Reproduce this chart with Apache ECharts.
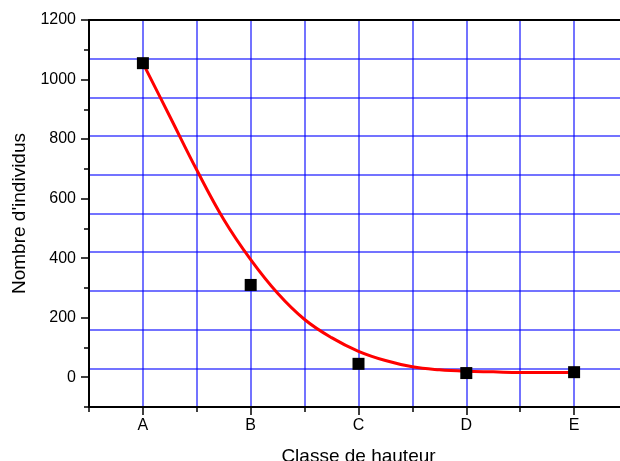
<!DOCTYPE html>
<html>
<head>
<meta charset="utf-8">
<script src="https://cdn.jsdelivr.net/npm/echarts@6/dist/echarts.min.js"></script>
<style>
html,body{margin:0;padding:0;background:#fff;}
#chart{width:620px;height:461px;}
</style>
</head>
<body>
<div id="chart"></div>
<script>
// Categories (height classes)
var categories = ['A', 'B', 'C', 'D', 'E'];
// Observed counts (black squares)
var pointValues = [1055, 310, 45, 14, 17];
// Fitted red curve (position in category units, value)
var curvePos = [0, 0.25, 0.5, 0.75, 1, 1.25, 1.5, 1.75, 2, 2.25, 2.5, 2.75, 3, 3.25, 3.5, 3.75, 4];
var curveValues = [1055, 876, 696, 530, 395, 282, 194, 133, 87, 56, 35, 25, 20, 18, 16, 16, 17];
// Axis tick labels
var yLabelValues = [0, 200, 400, 600, 800, 1000, 1200];
var xLabelValues = [0, 1, 2, 3, 4];

var FONT = "'Liberation Sans', Arial, Helvetica, sans-serif";
var GRID_COLOR = 'rgba(0,0,255,0.55)';

var chart = echarts.init(document.getElementById('chart'), null, {renderer: 'canvas'});

var pointData = pointValues.map(function (v, i) { return [i, v]; });
var curveData = curvePos.map(function (p, i) { return [p, curveValues[i]]; });

var option = {
  backgroundColor: '#ffffff',
  animation: false,
  grid: {left: 89, top: 20, right: -8, bottom: 54, containLabel: false, outerBoundsMode: 'none'},
  xAxis: [
    {
      type: 'value', position: 'bottom', min: -0.5, max: 4.5, interval: 0.5,
      name: 'Classe de hauteur', nameLocation: 'middle', nameGap: 40,
      nameTextStyle: {fontFamily: FONT, fontSize: 19, color: '#000'},
      axisLine: {show: true, onZero: false, lineStyle: {color: '#000', width: 2}},
      axisTick: {show: true, inside: false, length: 5, lineStyle: {color: '#000', width: 1.5}},
      axisLabel: {
        show: true, customValues: xLabelValues, margin: 11,
        fontFamily: FONT, fontSize: 16, color: '#000',
        formatter: function (v) { return categories[Math.round(v)] || ''; }
      },
      splitLine: {show: true, lineStyle: {color: GRID_COLOR, width: 2}}
    },
    {
      type: 'value', position: 'bottom', min: -0.5, max: 4.5, interval: 0.5,
      axisLine: {show: false, onZero: false},
      axisTick: {show: true, inside: false, length: 8, customValues: xLabelValues, lineStyle: {color: '#000', width: 1.5}},
      axisLabel: {show: false},
      splitLine: {show: false}
    },
    {
      type: 'value', position: 'top', min: -0.5, max: 4.5, interval: 0.5,
      axisLine: {show: true, onZero: false, lineStyle: {color: '#000', width: 2}},
      axisTick: {show: false},
      axisLabel: {show: false},
      splitLine: {show: false}
    }
  ],
  yAxis: [
    {
      type: 'value', position: 'left', min: -100, max: 1200, interval: 100,
      name: "Nombre d'individus", nameLocation: 'middle', nameGap: 60, nameRotate: 90,
      nameTextStyle: {fontFamily: FONT, fontSize: 19, color: '#000'},
      axisLine: {show: true, onZero: false, lineStyle: {color: '#000', width: 2}},
      axisTick: {show: true, inside: false, length: 5, lineStyle: {color: '#000', width: 1.5}},
      axisLabel: {
        show: true, customValues: yLabelValues, margin: 13,
        fontFamily: FONT, fontSize: 16, color: '#000',
        formatter: function (v) { return String(v); }
      },
      splitLine: {show: false}
    },
    {
      type: 'value', position: 'left', min: -100, max: 1200, interval: 100,
      axisLine: {show: false, onZero: false},
      axisTick: {show: true, inside: false, length: 8, customValues: yLabelValues, lineStyle: {color: '#000', width: 1.5}},
      axisLabel: {show: false},
      splitLine: {show: false}
    },
    {
      type: 'value', position: 'right', min: 0, max: 1300, interval: 130,
      axisLine: {show: true, onZero: false, lineStyle: {color: '#000', width: 2}},
      axisTick: {show: false},
      axisLabel: {show: false},
      splitLine: {show: true, lineStyle: {color: GRID_COLOR, width: 2}}
    }
  ],
  series: [
    {
      type: 'line', xAxisIndex: 0, yAxisIndex: 0,
      data: curveData, smooth: 0.4, showSymbol: false, symbol: 'none',
      lineStyle: {color: '#ff0000', width: 3}, z: 3
    },
    {
      type: 'scatter', xAxisIndex: 0, yAxisIndex: 0,
      data: pointData, symbol: 'rect', symbolSize: 12,
      itemStyle: {color: '#000000', opacity: 1}, z: 4
    }
  ]
};
chart.setOption(option);
</script>
</body>
</html>
